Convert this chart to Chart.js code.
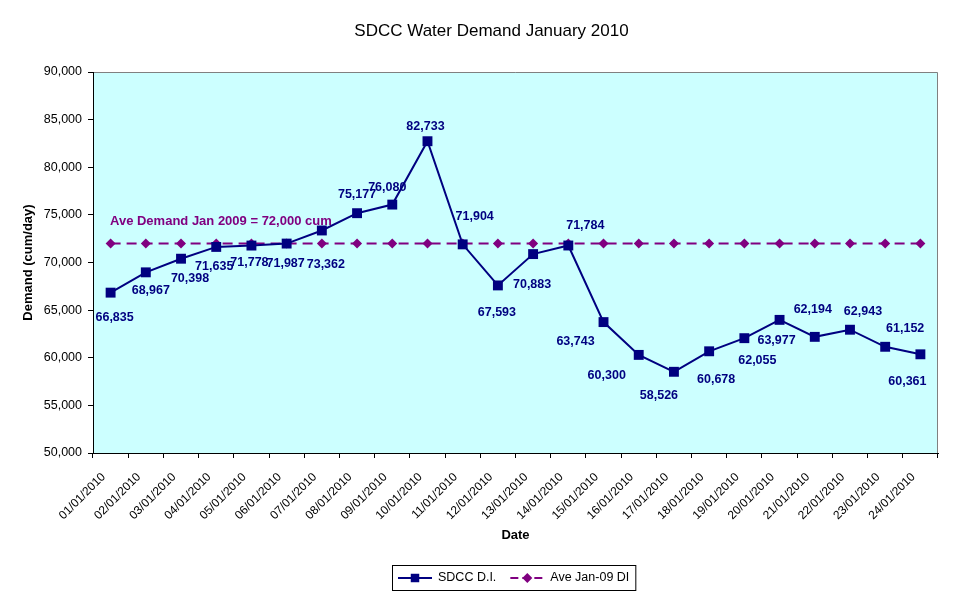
<!DOCTYPE html>
<html>
<head>
<meta charset="utf-8">
<script src="https://cdn.jsdelivr.net/npm/chart.js@4.4.1/dist/chart.umd.min.js"></script>
<style>
  body { margin: 0; background: #ffffff; }
  #wrap { width: 975px; height: 598px; }
</style>
</head>
<body>
<div id="wrap"><canvas id="demandChart" width="975" height="598"></canvas></div>
<script>
// Fechas del eje X
const dates = [
  '01/01/2010', '02/01/2010', '03/01/2010', '04/01/2010', '05/01/2010', '06/01/2010',
  '07/01/2010', '08/01/2010', '09/01/2010', '10/01/2010', '11/01/2010', '12/01/2010',
  '13/01/2010', '14/01/2010', '15/01/2010', '16/01/2010', '17/01/2010', '18/01/2010',
  '19/01/2010', '20/01/2010', '21/01/2010', '22/01/2010', '23/01/2010', '24/01/2010'
];

// Demanda diaria SDCC (cum/day)
const sdccDemand = [
  66835, 68967, 70398, 71635, 71778, 71987, 73362, 75177, 76080, 82733, 71904, 67593,
  70883, 71784, 63743, 60300, 58526, 60678, 62055, 63977, 62194, 62943, 61152, 60361
];

// Media de enero 2009
const aveJan09 = [
  72000, 72000, 72000, 72000, 72000, 72000, 72000, 72000, 72000, 72000, 72000, 72000,
  72000, 72000, 72000, 72000, 72000, 72000, 72000, 72000, 72000, 72000, 72000, 72000
];

const yTicks = [50000, 55000, 60000, 65000, 70000, 75000, 80000, 85000, 90000];

// Desplazamiento de cada etiqueta respecto a su punto (px)
const labelOffsets = [
  [4, 25], [5, 18], [9, 20], [-2, 20], [-2, 17], [-1, 20], [4, 34], [0, -19],
  [-5, -17], [-2, -15], [12, -28], [-1, 27], [-1, 30], [17, -20], [-28, 19], [-32, 21],
  [-15, 24], [7, 28], [13, 22], [-3, 21], [-2, -27], [13, -18], [20, -18], [-13, 27]
];

const NAVY = '#000080';
const PURPLE = '#800080';
const FONT = '"Liberation Sans", Arial, sans-serif';
const TITLE = 'SDCC Water Demand January 2010';

function fmt(v) {
  return v.toLocaleString('en-US');
}

// Fondo y borde del área de trazado, y título centrado en el lienzo
const plotBackground = {
  id: 'plotBackground',
  beforeDraw(chart) {
    const { ctx, chartArea: a } = chart;
    ctx.save();
    ctx.fillStyle = '#ccffff';
    ctx.fillRect(a.left, a.top, a.right - a.left, a.bottom - a.top);
    ctx.strokeStyle = '#808080';
    ctx.lineWidth = 1;
    ctx.beginPath();
    ctx.moveTo(a.left, a.top + 0.5);
    ctx.lineTo(a.right - 0.5, a.top + 0.5);
    ctx.lineTo(a.right - 0.5, a.bottom);
    ctx.stroke();

    ctx.fillStyle = '#000000';
    ctx.font = '17px ' + FONT;
    ctx.textAlign = 'center';
    ctx.textBaseline = 'middle';
    ctx.fillText(TITLE, chart.width / 2 + 4, 31);
    ctx.restore();
  }
};

// Etiquetas de datos y texto de la media
const dataLabels = {
  id: 'dataLabels',
  afterDatasetsDraw(chart) {
    const { ctx } = chart;
    const meta = chart.getDatasetMeta(0);
    ctx.save();
    ctx.font = 'bold 12.5px ' + FONT;
    ctx.fillStyle = NAVY;
    ctx.textAlign = 'center';
    ctx.textBaseline = 'middle';
    meta.data.forEach(function(pt, i) {
      const off = labelOffsets[i];
      ctx.fillText(fmt(sdccDemand[i]), pt.x + off[0], pt.y + off[1]);
    });

    const y = chart.scales.y.getPixelForValue(aveJan09[0]);
    ctx.font = 'bold 13px ' + FONT;
    ctx.fillStyle = PURPLE;
    ctx.textAlign = 'left';
    ctx.fillText('Ave Demand Jan 2009 = 72,000 cum', chart.chartArea.left + 17, y - 22);
    ctx.restore();
  }
};

// Leyenda con recuadro al estilo Excel
const boxLegend = {
  id: 'boxLegend',
  afterDraw(chart) {
    const { ctx, chartArea: a } = chart;
    const items = [
      { text: 'SDCC D.I.', color: NAVY, style: 'rect', radius: 6, dash: [] },
      { text: 'Ave Jan-09 DI', color: PURPLE, style: 'rectRot', radius: 5, dash: [8, 4] }
    ];
    ctx.save();
    ctx.font = '12.5px ' + FONT;
    const lineLen = 34, gap = 6, pad = 6, between = 14;
    let total = pad * 2;
    items.forEach(function(it, i) {
      total += lineLen + gap + ctx.measureText(it.text).width + (i ? between : 0);
    });
    const top = 565, h = 25;
    const cx = (a.left + a.right) / 2 - 2;
    let x = Math.round(cx - total / 2);
    ctx.strokeStyle = '#000000';
    ctx.lineWidth = 1;
    ctx.strokeRect(x + 0.5, top + 0.5, total, h);
    const my = top + h / 2 + 0.5;
    x += pad;
    items.forEach(function(it, i) {
      if (i) x += between;
      ctx.strokeStyle = it.color;
      ctx.lineWidth = 2;
      ctx.setLineDash(it.dash);
      ctx.beginPath();
      ctx.moveTo(x, my);
      ctx.lineTo(x + lineLen, my);
      ctx.stroke();
      ctx.setLineDash([]);
      ctx.fillStyle = it.color;
      Chart.helpers.drawPoint(ctx, {
        pointStyle: it.style,
        radius: it.radius,
        borderWidth: 0
      }, x + lineLen / 2, my);
      x += lineLen + gap;
      ctx.fillStyle = '#000000';
      ctx.textAlign = 'left';
      ctx.textBaseline = 'middle';
      ctx.fillText(it.text, x, my);
      x += ctx.measureText(it.text).width;
    });
    ctx.restore();
  }
};

const ctx = document.getElementById('demandChart').getContext('2d');
const chart = new Chart(ctx, {
  type: 'line',
  data: {
    labels: dates,
    datasets: [
      {
        label: 'SDCC D.I.',
        data: sdccDemand,
        borderColor: NAVY,
        backgroundColor: NAVY,
        borderWidth: 2,
        pointStyle: 'rect',
        pointRadius: 7,
        pointBorderWidth: 0,
        tension: 0
      },
      {
        label: 'Ave Jan-09 DI',
        data: aveJan09,
        borderColor: PURPLE,
        backgroundColor: PURPLE,
        borderWidth: 2,
        borderDash: [10, 6],
        pointStyle: 'rectRot',
        pointRadius: 5,
        pointBorderWidth: 0,
        tension: 0
      }
    ]
  },
  options: {
    responsive: false,
    animation: false,
    devicePixelRatio: 1,
    layout: {
      padding: { left: 0, right: 37, top: 72, bottom: 0 }
    },
    plugins: {
      legend: { display: false },
      tooltip: { enabled: false },
      title: { display: false }
    },
    scales: {
      x: {
        offset: true,
        grid: {
          offset: true,
          drawOnChartArea: false,
          tickLength: 5,
          color: '#000000'
        },
        border: { color: '#000000', width: 1 },
        ticks: {
          color: '#000000',
          font: { family: FONT, size: 12 },
          minRotation: 45,
          maxRotation: 45,
          autoSkip: false,
          padding: 12,
          labelOffset: -7
        },
        title: {
          display: true,
          text: 'Date',
          color: '#000000',
          font: { family: FONT, size: 13, weight: 'bold' },
          padding: { top: 4, bottom: 55 }
        },
        afterFit: function(scale) { scale.height = 145; }
      },
      y: {
        min: 50000,
        max: 90000,
        afterBuildTicks: function(scale) {
          scale.ticks = yTicks.map(function(v) { return { value: v }; });
        },
        grid: {
          drawOnChartArea: false,
          tickLength: 5,
          color: '#000000'
        },
        border: { color: '#000000', width: 1 },
        ticks: {
          color: '#000000',
          font: { family: FONT, size: 12.5 },
          padding: 6,
          callback: function(v) { return fmt(v); }
        },
        title: {
          display: true,
          text: 'Demand (cum/day)',
          color: '#000000',
          font: { family: FONT, size: 13, weight: 'bold' },
          padding: { top: 21, bottom: 0 }
        },
        afterFit: function(scale) { scale.width = 93; }
      }
    }
  },
  plugins: [plotBackground, dataLabels, boxLegend]
});
</script>
</body>
</html>
